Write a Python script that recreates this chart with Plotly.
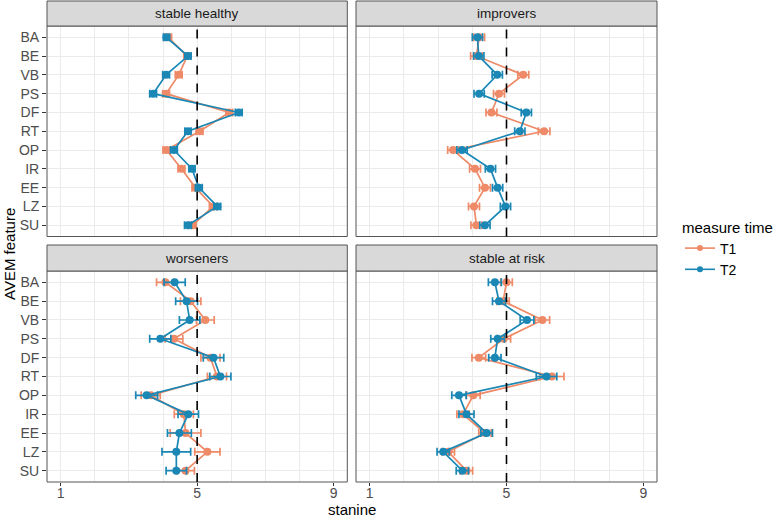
import plotly.graph_objects as go

features = ["BA", "BE", "VB", "PS", "DF", "RT", "OP", "IR", "EE", "LZ", "SU"]
groups = ["stable healthy", "improvers", "worseners", "stable at risk"]

# mean stanine per group (T1, T2) and error half-widths
t1 = {
    "stable healthy": [4.15, 4.71, 4.46, 4.09, 5.94, 5.07, 4.10, 4.54, 4.95, 5.47, 4.87],
    "improvers":      [4.20, 4.12, 5.49, 4.78, 4.56, 6.10, 3.44, 4.08, 4.37, 4.05, 4.12],
    "worseners":      [4.07, 4.81, 5.24, 4.32, 5.39, 5.58, 3.64, 4.61, 4.66, 5.30, 4.66],
    "stable at risk": [5.00, 4.90, 6.05, 4.92, 4.19, 6.33, 4.03, 3.73, 4.37, 3.30, 3.83],
}
t2 = {
    "stable healthy": [4.10, 4.73, 4.09, 3.71, 6.22, 4.73, 4.32, 4.85, 5.05, 5.59, 4.73],
    "improvers":      [4.15, 4.19, 4.73, 4.20, 5.58, 5.39, 3.70, 4.53, 4.74, 4.97, 4.37],
    "worseners":      [4.34, 4.69, 4.78, 3.92, 5.48, 5.68, 3.52, 4.74, 4.48, 4.39, 4.39],
    "stable at risk": [4.66, 4.78, 5.60, 4.74, 4.66, 6.17, 3.61, 3.83, 4.42, 3.15, 3.71],
}
err1 = {
    "stable healthy": [0.10, 0.10, 0.10, 0.10, 0.10, 0.10, 0.10, 0.10, 0.10, 0.11, 0.10],
    "improvers":      [0.16, 0.17, 0.16, 0.16, 0.16, 0.17, 0.16, 0.16, 0.16, 0.16, 0.16],
    "worseners":      [0.26, 0.30, 0.26, 0.26, 0.28, 0.28, 0.28, 0.28, 0.45, 0.37, 0.26],
    "stable at risk": [0.17, 0.18, 0.21, 0.20, 0.20, 0.35, 0.20, 0.18, 0.18, 0.18, 0.18],
}
err2 = {
    "stable healthy": [0.09, 0.09, 0.10, 0.10, 0.10, 0.09, 0.10, 0.09, 0.10, 0.10, 0.10],
    "improvers":      [0.15, 0.15, 0.15, 0.15, 0.15, 0.15, 0.15, 0.15, 0.15, 0.15, 0.15],
    "worseners":      [0.31, 0.32, 0.30, 0.31, 0.30, 0.31, 0.32, 0.30, 0.35, 0.42, 0.30],
    "stable at risk": [0.19, 0.19, 0.20, 0.20, 0.18, 0.30, 0.21, 0.22, 0.17, 0.18, 0.18],
}

c1 = "#EE8A67"
c2 = "#1A87B5"
x_ticks = [1, 5, 9]

W, H = 781, 520
ml, mr, mt, mb = 47, 124, 1, 38
pw, ph = W - ml - mr, H - mt - mb

def fx(px):
    return (px - ml) / pw

def fy(py):
    return (H - mb - py) / ph

x_dom = [[0, fx(347.3)], [fx(356), 1]]
y_dom = [[fy(236.5), fy(26)], [0, fy(271)]]
strip_y = [[fy(26), fy(1)], [fy(271), fy(245)]]

fig = go.Figure()
layout = {}
shapes = []
annotations = []

for i, g in enumerate(groups):
    r, c = divmod(i, 2)
    n = i + 1
    xa = "x" if n == 1 else f"x{n}"
    ya = "y" if n == 1 else f"y{n}"
    for vals, errs, col, name in [(t1[g], err1[g], c1, "T1"), (t2[g], err2[g], c2, "T2")]:
        fig.add_trace(go.Scatter(
            x=vals, y=features, mode="lines+markers", name=name,
            line=dict(color=col, width=1.7),
            marker=dict(color=col, size=8),
            error_x=dict(type="data", array=errs, color=col, thickness=1.7, width=4),
            xaxis=xa, yaxis=ya, showlegend=False, hoverinfo="skip",
        ))
    layout[f"xaxis{'' if n == 1 else n}"] = dict(
        domain=x_dom[c], range=[0.6, 9.4], anchor=ya,
        tickvals=x_ticks, ticktext=[str(v) for v in x_ticks],
        showticklabels=(r == 1), ticks="outside" if r == 1 else "", ticklen=3,
        ticklabelstandoff=-5,
        tickcolor="#333333", tickfont=dict(size=14, color="#4D4D4D"),
        showgrid=True, gridcolor="#EBEBEB", gridwidth=1,
        minor=dict(tickvals=[2, 3, 4, 6, 7, 8], showgrid=True, gridcolor="#EBEBEB", gridwidth=1),
        zeroline=False, showline=False, automargin=False,
    )
    layout[f"yaxis{'' if n == 1 else n}"] = dict(
        domain=y_dom[r], anchor=xa, type="category",
        categoryorder="array", categoryarray=features,
        range=[10.6, -0.6],
        showticklabels=(c == 0), ticks="outside" if c == 0 else "", ticklen=4,
        tickcolor="#333333", tickfont=dict(size=14, color="#4D4D4D"),
        showgrid=True, gridcolor="#EBEBEB", gridwidth=1,
        zeroline=False, showline=False, automargin=False,
    )
    # panel border
    shapes.append(dict(type="rect", xref="paper", yref="paper",
                       x0=x_dom[c][0], x1=x_dom[c][1], y0=y_dom[r][0], y1=y_dom[r][1],
                       line=dict(color="#555555", width=1), layer="above"))
    # dashed reference line
    shapes.append(dict(type="line", xref=xa, yref=f"{ya} domain", x0=5, x1=5, y0=0, y1=1,
                       line=dict(color="black", width=1.6, dash="dash"), layer="above"))
    # strip
    shapes.append(dict(type="rect", xref="paper", yref="paper",
                       x0=x_dom[c][0], x1=x_dom[c][1], y0=strip_y[r][0], y1=strip_y[r][1],
                       fillcolor="#D9D9D9", line=dict(color="#555555", width=1), layer="above"))
    annotations.append(dict(text=g, xref="paper", yref="paper",
                            x=(x_dom[c][0] + x_dom[c][1]) / 2,
                            y=(strip_y[r][0] + strip_y[r][1]) / 2,
                            showarrow=False, font=dict(size=13.5, color="#1A1A1A"),
                            xanchor="center", yanchor="middle"))

# legend entries
for col, name in [(c1, "T1"), (c2, "T2")]:
    fig.add_trace(go.Scatter(x=[None], y=[None], mode="lines+markers", name=name,
                             line=dict(color=col, width=1.6), marker=dict(color=col, size=6),
                             showlegend=True))

annotations.append(dict(text="AVEM feature", xref="paper", yref="paper",
                        x=fx(9), y=fy(254), textangle=-90, showarrow=False,
                        font=dict(size=15, color="black"), xanchor="center", yanchor="middle"))
annotations.append(dict(text="stanine", xref="paper", yref="paper",
                        x=fx(352), y=fy(509), showarrow=False,
                        font=dict(size=15, color="black"), xanchor="center", yanchor="middle"))

fig.update_layout(
    width=W, height=H,
    margin=dict(l=ml, r=mr, t=mt, b=mb, autoexpand=False),
    plot_bgcolor="white", paper_bgcolor="white",
    font=dict(family="Liberation Sans, Arial, sans-serif", color="black"),
    shapes=shapes, annotations=annotations,
    legend=dict(title=dict(text="measure time", font=dict(size=15)),
                font=dict(size=14, color="black"),
                x=fx(680), y=fy(213), xanchor="left", yanchor="top",
                bgcolor="rgba(0,0,0,0)", tracegroupgap=0, itemwidth=30),
    **layout,
)

fig.write_html("out.html", config={"displayModeBar": False},
               post_script="document.body.style.margin='0';document.body.style.overflow='hidden';")
